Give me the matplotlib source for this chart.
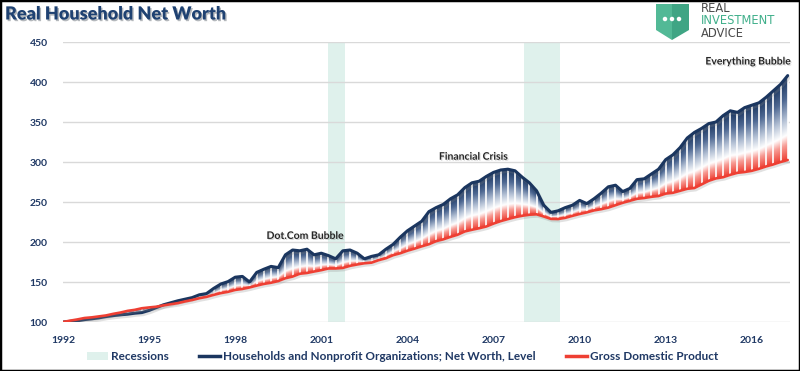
import numpy as np
import pandas as pd
import matplotlib
matplotlib.use('Agg')
import matplotlib.pyplot as plt
from matplotlib.colors import LinearSegmentedColormap
from matplotlib.patches import Rectangle, Polygon, Ellipse
from matplotlib.lines import Line2D
from matplotlib import patheffects as pe

plt.rcParams['font.family'] = ['Lato', 'DejaVu Sans']

# ========== data (index, 1992Q1 = 100) ==========
quarters = pd.period_range('1992Q1', '2017Q2', freq='Q')

net_worth = [
    100.0, 100.8, 101.5, 103.0, 104.0, 105.2, 106.8, 108.0,   # 1992-1993
    109.0, 109.8, 111.0, 111.8, 114.5, 118.0, 121.5, 124.0,   # 1994-1995
    126.5, 128.5, 130.5, 134.0, 135.5, 142.0, 147.5, 150.5,   # 1996-1997
    156.0, 157.0, 150.0, 162.0, 166.0, 169.5, 168.0, 184.0,   # 1998-1999
    190.0, 189.0, 191.0, 184.0, 186.0, 183.0, 179.0, 189.0,   # 2000-2001
    190.0, 186.0, 179.0, 182.0, 184.0, 191.0, 197.0, 206.0,   # 2002-2003
    214.0, 220.0, 226.0, 238.0, 243.0, 247.0, 254.0, 259.0,   # 2004-2005
    268.0, 274.0, 276.0, 282.0, 287.0, 290.0, 291.0, 289.0,   # 2006-2007
    281.0, 274.0, 264.0, 246.0, 237.0, 239.0, 243.0, 246.0,   # 2008-2009
    252.0, 248.0, 254.0, 261.0, 269.0, 271.0, 263.0, 267.0,   # 2010-2011
    278.0, 279.0, 285.0, 291.0, 303.0, 309.0, 318.0, 330.0,   # 2012-2013
    337.0, 342.0, 348.0, 350.0, 358.0, 364.0, 362.0, 368.0,   # 2014-2015
    371.0, 374.0, 381.0, 389.0, 397.0, 408.0,                 # 2016-2017
]

gdp = [
    100.0, 101.7, 103.2, 105.0, 105.8, 107.0, 108.2, 110.2,
    111.8, 113.9, 115.2, 117.2, 118.2, 119.1, 120.8, 122.2,
    123.6, 125.7, 127.5, 129.7, 131.4, 133.9, 136.1, 137.7,
    140.1, 141.3, 143.2, 145.5, 147.6, 149.1, 151.2, 154.7,
    156.8, 160.3, 161.3, 163.1, 164.8, 166.9, 166.9, 167.6,
    170.2, 171.9, 173.4, 174.2, 177.3, 179.7, 183.5, 185.9,
    189.1, 191.7, 194.6, 197.2, 201.1, 203.3, 206.4, 209.1,
    213.2, 215.3, 217.2, 219.4, 223.0, 226.1, 228.6, 231.0,
    232.8, 234.1, 234.6, 231.9, 228.9, 228.7, 230.2, 232.7,
    235.0, 237.0, 239.5, 241.0, 243.0, 246.0, 249.0, 251.5,
    254.0, 255.0, 256.5, 257.5, 260.5, 261.5, 264.0, 266.5,
    267.5, 272.0, 276.5, 279.5, 281.0, 284.0, 286.5, 287.5,
    289.0, 291.5, 294.5, 297.0, 300.0, 302.5,
]

recessions = [(2001.25, 2001.83), (2008.05, 2009.3)]
x_ticks = [1992, 1995, 1998, 2001, 2004, 2007, 2010, 2013, 2016]
y_ticks = [100, 150, 200, 250, 300, 350, 400, 450]
notes = [('Dot.Com Bubble', 2000.43, 207), ('Financial Crisis', 2006.29, 306),
         ('Everything Bubble', 2015.87, 425)]

NAVY = '#1B365F'
RED = '#EE3F33'
TEXT_BLUE = '#1F3864'
REC_COLOR = '#DFF1EC'


def px(x, y):
    return (x / 800, 1 - y / 371)


fig = plt.figure(figsize=(8, 3.71), dpi=100, facecolor='white')
ax = fig.add_axes([63 / 800, 49 / 371, 727 / 800, 280 / 371])

x = np.array([q.year + (q.quarter - 1) / 4 for q in quarters])
nw = np.array(net_worth)
gd = np.array(gdp)

# recession bands
for a, b in recessions:
    ax.axvspan(a, b, color=REC_COLOR, lw=0, zorder=0)

# gradient fill between the two series, coloured per column
cmap = LinearSegmentedColormap.from_list('nwgrad', [
    (0.0, RED), (0.18, '#F79C95'), (0.3, '#FFFFFF'),
    (0.5, '#B4C1D5'), (0.75, '#4E6892'), (1.0, NAVY)])
xs = np.linspace(x[0], x[-1], 1800)
ys = np.linspace(100, 450, 1000)
top = np.interp(xs, x, nw)
bot = np.interp(xs, x, gd)
hi = np.maximum(top, bot)
lo = np.minimum(top, bot)
Y = ys[:, None]
t = np.clip((Y - lo) / np.maximum(hi - lo, 1e-6), 0, 1)
rgba = cmap(t)
rgba[..., 3] = ((Y >= lo) & (Y <= hi)).astype(float)
ax.imshow(rgba, extent=(x[0], x[-1], 100, 450), origin='lower',
          aspect='auto', interpolation='bilinear', zorder=2)

# white quarterly stripes
ax.vlines(x, np.minimum(nw, gd), np.maximum(nw, gd), color='white', lw=1.2, zorder=3)

shadow = [pe.SimpleLineShadow(offset=(1, -1.5), shadow_color='#888888', alpha=0.25), pe.Normal()]
ax.plot(x, nw, color=NAVY, lw=2.2, zorder=4, path_effects=shadow, solid_capstyle='round')
ax.plot(x, gd, color=RED, lw=1.9, zorder=5, path_effects=shadow, solid_capstyle='round')

ax.set_xlim(1992, 2017.33)
ax.set_ylim(100, 450)
ax.set_yticks(y_ticks)
ax.set_xticks(x_ticks)
ax.grid(axis='y', color='#D9D9D9', lw=1, zorder=1)
ax.set_axisbelow(True)
for s in ax.spines.values():
    s.set_visible(False)
ax.tick_params(axis='both', length=0, labelsize=7.5, labelcolor=TEXT_BLUE)
ax.tick_params(axis='y', pad=11)
ax.tick_params(axis='x', pad=10)
for lbl in ax.get_xticklabels() + ax.get_yticklabels():
    lbl.set_fontweight('bold')

for txt, xx, yy in notes:
    ax.text(xx, yy, txt, ha='center', va='center', fontsize=7.5, fontweight='bold',
            color='#262626', zorder=6,
            path_effects=[pe.withSimplePatchShadow(offset=(0.8, -0.8), alpha=0.15)])

# title
fig.text(*px(5, 14), 'Real Household Net Worth', ha='left', va='center',
         fontsize=13, fontweight='heavy', color='#1F4272',
         path_effects=[pe.withSimplePatchShadow(offset=(1, -1.2), alpha=0.3)])

# logo
shield_l = Polygon([px(656, 4), px(672, 4), px(672, 40), px(656, 30)],
                   closed=True, transform=fig.transFigure, facecolor='#52B996', lw=0)
shield_r = Polygon([px(672, 4), px(689, 4), px(689, 30), px(672, 40)],
                   closed=True, transform=fig.transFigure, facecolor='#3FA584', lw=0)
fig.patches.extend([shield_l, shield_r])
for dx in (665, 672, 679):
    fig.patches.append(Ellipse(px(dx, 19), 4.5 / 800, 4.5 / 371,
                               transform=fig.transFigure, facecolor='white', lw=0))
for txt, yy, col in [('REAL', 12, '#4A4A4A'), ('INVESTMENT', 24.5, '#3FAF8A'),
                     ('ADVICE', 37, '#4A4A4A')]:
    fig.text(*px(701, yy), txt, ha='left', va='baseline', fontsize=8.3,
             color=col, family='DejaVu Sans')

# legend
handles = [
    Rectangle((0, 0), 1, 1, facecolor=REC_COLOR, edgecolor='none'),
    Line2D([], [], color=NAVY, lw=2.5),
    Line2D([], [], color=RED, lw=2.5),
]
labels = ['Recessions', 'Households and Nonprofit Organizations; Net Worth, Level',
          'Gross Domestic Product']
leg = fig.legend(handles, labels, loc='center', bbox_to_anchor=(0.503, 0.038), ncol=3,
                 frameon=False, fontsize=8.5, handlelength=1.8, handletextpad=0.2,
                 columnspacing=2.6)
for t_ in leg.get_texts():
    t_.set_color(TEXT_BLUE)
    t_.set_fontweight('bold')

# outer frame
fig.patches.append(Rectangle((0, 0), 1, 1, transform=fig.transFigure, fill=False,
                             edgecolor='black', lw=2.5))

plt.savefig('out.png', dpi=100, facecolor='white')
plt.close()
